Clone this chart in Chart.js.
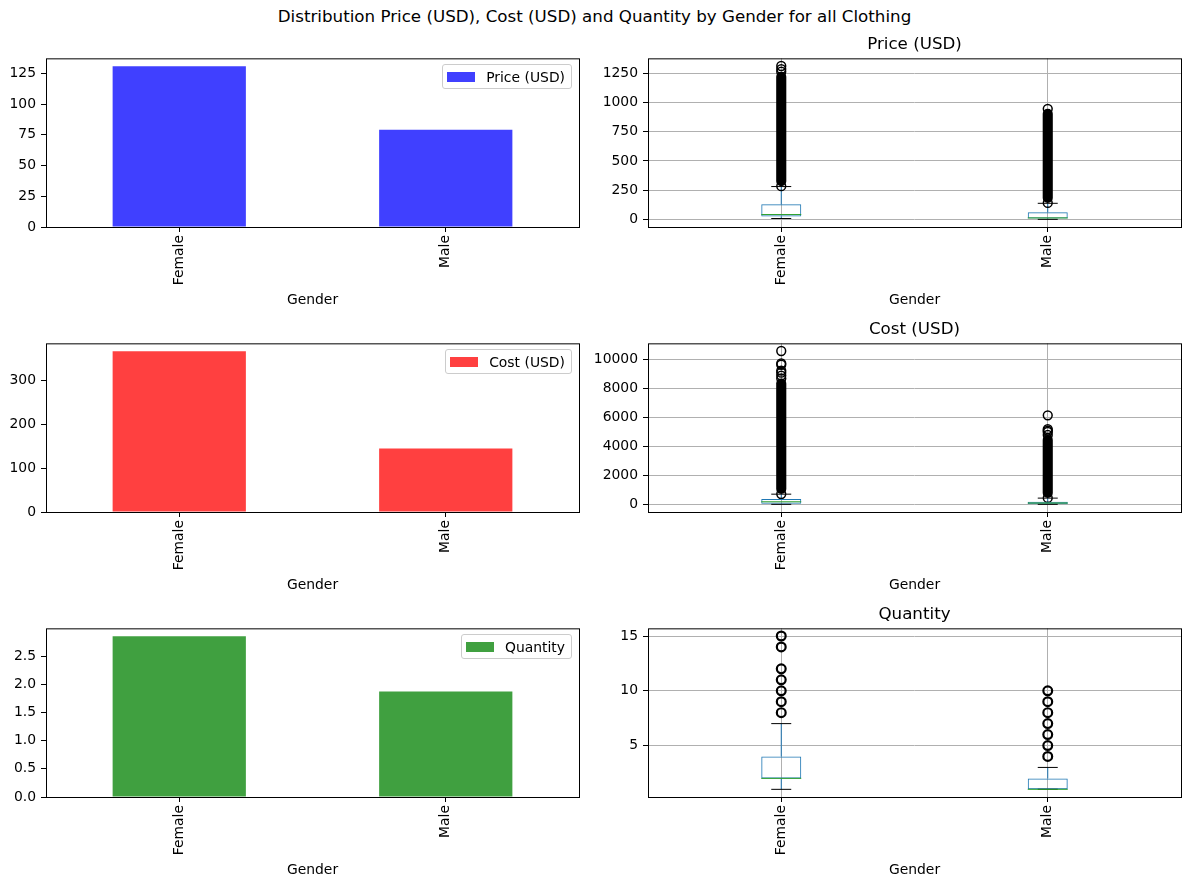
<!DOCTYPE html>
<html>
<head>
<meta charset="utf-8">
<script src="https://cdn.jsdelivr.net/npm/chart.js@4.4.1/dist/chart.umd.min.js"></script>
<style>
  body { margin: 0; background: #fff; font-family: "DejaVu Sans", sans-serif; }
  #page { position: relative; width: 1189px; height: 887px; overflow: hidden; }
  canvas { position: absolute; }
  .title { position: absolute; font-size: 16.7px; line-height: 20px; color: #000; white-space: nowrap; transform: translateX(-50%); }
  .legend { position: absolute; height: 25px; border: 1px solid #cccccc; border-radius: 3px; background: rgba(255,255,255,0.8);
            font-size: 13.9px; display: flex; align-items: center; box-sizing: border-box; padding: 0 6px 0 4px; white-space: nowrap; }
  .legend .sw { display: inline-block; width: 28px; height: 10px; margin-right: 11px; }
</style>
</head>
<body>
<div id="page"></div>
<script>
const genders = ["Female", "Male"];

// mean per gender (left column)
const priceMean = [130.6, 79.0];
const costMean = [365.5, 144.5];
const qtyMean = [2.85, 1.87];
const priceBarTicks = [0, 25, 50, 75, 100, 125];
const costBarTicks = [0, 100, 200, 300];
const qtyBarTicks = [0, 0.5, 1, 1.5, 2, 2.5];

// box stats per gender: [low whisker, q1, median, q3, high whisker]
const priceBox = [[8, 25, 42, 129, 281], [1, 8, 13, 62, 138]];
const costBox = [[0, 41, 177, 362, 703], [0, 5, 89, 177, 430]];
const qtyBox = [[1, 2, 2, 4, 7], [1, 1, 1, 2, 3]];
// stretches where the fliers overlap into one solid column [from, to]
const priceDense = [[284, 1262], [141, 945]];
const costDense = [[715, 8700], [440, 4800]];
const qtyDense = [null, null];
// single fliers
const priceFliers = [[284, 1262, 1285, 1311], [141, 945]];
const costFliers = [[715, 8700, 8900, 9100, 9250, 9650, 9750, 10600], [440, 4800, 5000, 5100, 5200, 6150]];
const qtyFliers = [[8, 9, 10, 11, 12, 14, 15], [4, 5, 6, 7, 8, 9, 10]];
const priceBoxTicks = [0, 250, 500, 750, 1000, 1250];
const costBoxTicks = [0, 2000, 4000, 6000, 8000, 10000];
const qtyBoxTicks = [5, 10, 15];

const FONT = { family: "DejaVu Sans", size: 13.9 };
const BOX_W = 0.15;
const rowTops = [57, 342, 627];
const plotH = 170;
const cols = [
  { canvasLeft: 0, canvasW: 590, plotLeft: 46, plotRight: 579 },
  { canvasLeft: 590, canvasW: 599, plotLeft: 648, plotRight: 1181 }
];
const TOP_PAD = 12, XAXIS_H = 82;

const page = document.getElementById("page");

const frame = {
  id: "frame",
  afterDraw(c) {
    const a = c.chartArea, ctx = c.ctx;
    ctx.save();
    ctx.strokeStyle = "#000";
    ctx.lineWidth = 1;
    ctx.strokeRect(a.left + 0.5, a.top + 0.5, a.right - a.left, a.bottom - a.top);
    ctx.restore();
  }
};

function makeCanvas(col, row) {
  const c = document.createElement("canvas");
  const w = cols[col].canvasW, h = TOP_PAD + plotH + XAXIS_H;
  c.width = w; c.height = h;
  c.style.left = cols[col].canvasLeft + "px";
  c.style.top = (rowTops[row] - TOP_PAD) + "px";
  c.style.width = w + "px"; c.style.height = h + "px";
  page.appendChild(c);
  return c;
}

function addText(cls, txt, x, y) {
  const d = document.createElement("div");
  d.className = cls; d.textContent = txt;
  d.style.left = x + "px"; d.style.top = y + "px";
  page.appendChild(d);
  return d;
}

function addLegend(label, color, row) {
  const d = document.createElement("div");
  d.className = "legend";
  d.style.right = (1189 - 572) + "px";
  d.style.top = (rowTops[row] + 7) + "px";
  d.innerHTML = '<span class="sw" style="background:' + color + '"></span>' + label;
  page.appendChild(d);
}

function xAxisCommon() {
  return {
    afterFit: s => { s.height = XAXIS_H; },
    title: { display: true, text: "Gender", color: "#000", font: FONT, padding: { top: 0, bottom: 0 } },
    ticks: { color: "#000", font: FONT, minRotation: 90, maxRotation: 90, autoSkip: false, padding: 3 },
    border: { display: false }
  };
}

function yAxisCommon(colIdx, ticks, fmt) {
  return {
    afterFit: s => { s.width = cols[colIdx].plotLeft - cols[colIdx].canvasLeft; },
    afterBuildTicks: s => { s.ticks = ticks.map(v => ({ value: v })); },
    ticks: { color: "#000", font: FONT, padding: 5, callback: fmt },
    border: { display: false }
  };
}

function barPanel(row, label, values, ticks, color, fmt) {
  const canvas = makeCanvas(0, row);
  const x = xAxisCommon();
  x.type = "category";
  x.offset = true;
  x.grid = { display: true, drawOnChartArea: false, tickLength: 5, tickColor: "#000", offset: false };
  const y = yAxisCommon(0, ticks, fmt);
  y.min = 0;
  y.max = Math.max(...values) * 1.05;
  y.grid = { display: true, drawOnChartArea: false, tickLength: 5, tickColor: "#000" };
  new Chart(canvas, {
    type: "bar",
    data: {
      labels: genders,
      datasets: [{ label: label, data: values, backgroundColor: color, barPercentage: 0.5, categoryPercentage: 1 }]
    },
    options: {
      responsive: false, animation: false,
      layout: { padding: { top: TOP_PAD, left: 0, right: cols[0].canvasLeft + cols[0].canvasW - cols[0].plotRight, bottom: 0 } },
      plugins: { legend: { display: false }, tooltip: { enabled: false } },
      scales: { x: x, y: y }
    },
    plugins: [frame]
  });
  addLegend(label, color, row);
}

function boxPanel(row, title, stats, dense, fliers, ticks, flierEdge) {
  const canvas = makeCanvas(1, row);
  const all = [];
  stats.forEach(s => all.push(s[0], s[4]));
  fliers.forEach(f => all.push(...f));
  const lo = Math.min(...all), hi = Math.max(...all), m = (hi - lo) * 0.05;

  const whisk = [], caps = [], meds = [];
  stats.forEach((s, i) => {
    const p = i + 1;
    whisk.push({ x: p, y: s[0] }, { x: p, y: s[1] }, { x: p, y: null }, { x: p, y: s[3] }, { x: p, y: s[4] }, { x: p, y: null });
    caps.push({ x: p - BOX_W / 4, y: s[0] }, { x: p + BOX_W / 4, y: s[0] }, { x: p, y: null },
              { x: p - BOX_W / 4, y: s[4] }, { x: p + BOX_W / 4, y: s[4] }, { x: p, y: null });
    meds.push({ x: p - BOX_W / 2, y: s[2] }, { x: p + BOX_W / 2, y: s[2] }, { x: p, y: null });
  });
  const flierPts = [];
  fliers.forEach((f, i) => f.forEach(v => flierPts.push({ x: i + 1, y: v })));
  const densePts = [];
  dense.forEach((d, i) => { if (d) densePts.push({ x: i + 1, y: d }); });

  const line = (data, color) => ({ type: "line", data: data, borderColor: color, borderWidth: 1, pointRadius: 0, fill: false, spanGaps: false, tension: 0 });
  const datasets = [
    line(meds, "#2ca02c"),
    line(caps, "#000"),
    { type: "bar", data: stats.map((s, i) => ({ x: i + 1, y: [s[1], s[3]] })), backgroundColor: "rgba(0,0,0,0)",
      borderColor: "#1f77b4", borderWidth: 1, borderSkipped: false, grouped: false, barPercentage: BOX_W, categoryPercentage: 1 },
    { type: "scatter", data: flierPts, pointStyle: "circle", pointRadius: 4.4, borderWidth: flierEdge, borderColor: "#000", backgroundColor: "rgba(0,0,0,0)" },
    line(whisk, "#1f77b4")
  ];
  if (densePts.length) {
    datasets.push({ type: "bar", data: densePts, backgroundColor: "#000", borderWidth: 0, borderRadius: 5, borderSkipped: false,
      grouped: false, barPercentage: 0.038, categoryPercentage: 1 });
  }

  const x = xAxisCommon();
  x.type = "linear";
  x.offset = false;
  x.min = 0.5; x.max = 2.5;
  x.afterBuildTicks = s => { s.ticks = genders.map((g, i) => ({ value: i + 1 })); };
  x.ticks.callback = v => genders[v - 1];
  x.grid = { display: true, offset: false, color: "#b0b0b0", lineWidth: 1, tickLength: 5, tickColor: "#000" };
  const y = yAxisCommon(1, ticks, v => v);
  y.min = lo - m; y.max = hi + m;
  y.grid = { display: true, color: "#b0b0b0", lineWidth: 1, tickLength: 5, tickColor: "#000" };

  new Chart(canvas, {
    data: { datasets: datasets },
    options: {
      responsive: false, animation: false,
      layout: { padding: { top: TOP_PAD, left: 0, right: cols[1].canvasLeft + cols[1].canvasW - cols[1].plotRight, bottom: 0 } },
      plugins: { legend: { display: false }, tooltip: { enabled: false } },
      scales: { x: x, y: y }
    },
    plugins: [frame]
  });
  addText("title", title, (cols[1].plotLeft + cols[1].plotRight) / 2, rowTops[row] - 24);
}

barPanel(0, "Price (USD)", priceMean, priceBarTicks, "rgba(0,0,255,0.75)", v => v);
barPanel(1, "Cost (USD)", costMean, costBarTicks, "rgba(255,0,0,0.75)", v => v);
barPanel(2, "Quantity", qtyMean, qtyBarTicks, "rgba(0,128,0,0.75)", v => v.toFixed(1));
boxPanel(0, "Price (USD)", priceBox, priceDense, priceFliers, priceBoxTicks, 1.5);
boxPanel(1, "Cost (USD)", costBox, costDense, costFliers, costBoxTicks, 1.5);
boxPanel(2, "Quantity", qtyBox, qtyDense, qtyFliers, qtyBoxTicks, 2.2);

addText("title", "Distribution Price (USD), Cost (USD) and Quantity by Gender for all Clothing", 594.5, 6);
</script>
</body>
</html>
